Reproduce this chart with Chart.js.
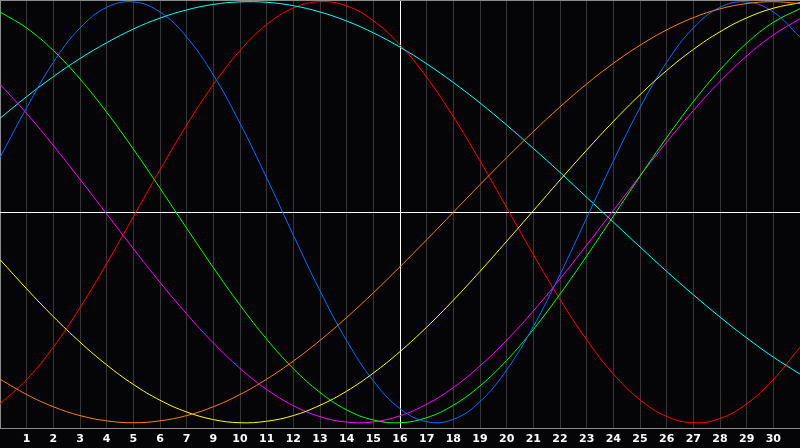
<!DOCTYPE html>
<html>
<head>
<meta charset="utf-8">
<title>Biorhythm</title>
<script src="https://cdn.jsdelivr.net/npm/chart.js@4/dist/chart.umd.min.js"></script>
<style>
  html, body { margin: 0; padding: 0; background: #050507; }
  canvas { display: block; }
</style>
</head>
<body>
<canvas id="chart" width="800" height="448"></canvas>
<script>
// day positions along the x axis (one grid step per day)
const days = [0, 1, 2, 3, 4, 5, 6, 7, 8, 9, 10, 11, 12, 13, 14, 15, 16, 17, 18, 19, 20, 21, 22, 23, 24, 25, 26, 27, 28, 29, 30];

// labels under grid lines 1..29 (the chart skips "8")
const tickLabels = ['1', '2', '3', '4', '5', '6', '7', '9', '10', '11', '12', '13', '14', '15', '16',
    '17', '18', '19', '20', '21', '22', '23', '24', '25', '26', '27', '28', '29', '30'];

const todayDay = 15;

// cycle values in percent at each day
const red = [-91.1, -79.5, -64.1, -45.4, -24.4, -2.2, 20.1, 41.4, 60.6, 76.8, 89.1, 97.0, 100.0, 98.0, 91.0, 79.5,
    64.1, 45.4, 24.4, 2.2, -20.1, -41.4, -60.6, -76.8, -89.1, -97.0, -100.0, -98.0, -91.0, -79.5, -64.1];
const blue = [26.0, 49.6, 71.2, 87.5, 97.3, 99.9, 95.1, 83.2, 65.2, 42.3, 16.3, -10.9, -37.3, -61.0, -80.1, -93.3,
    -99.5, -98.4, -90.0, -74.9, -54.3, -29.6, -2.7, 24.3, 49.6, 71.2, 87.5, 97.3, 99.9, 95.1, 83.2];
const cyan = [44.6, 54.9, 64.4, 73.0, 80.5, 87.0, 92.2, 96.1, 98.7, 99.9, 99.7, 98.1, 95.1, 90.8, 85.2, 78.4,
    70.5, 61.6, 51.9, 41.4, 30.3, 18.9, 7.1, -4.7, -16.5, -28.1, -39.2, -49.8, -59.7, -68.8, -76.9];
const green = [95.1, 87.5, 76.8, 63.3, 47.5, 30.0, 11.4, -7.6, -26.3, -44.1, -60.3, -74.3, -85.6, -93.9, -98.7, -100.0,
    -97.6, -91.7, -82.5, -70.4, -55.7, -38.9, -20.8, -1.9, 17.1, 35.4, 52.5, 67.6, 80.3, 90.2, 96.7];
const magenta = [60.8, 46.9, 31.7, 15.6, -0.8, -17.3, -33.3, -48.3, -62.1, -74.2, -84.2, -91.9, -97.1, -99.7, -99.6, -96.7,
    -91.2, -83.3, -73.0, -60.8, -46.9, -31.7, -15.6, 0.8, 17.3, 33.3, 48.3, 62.1, 74.2, 84.2, 91.9];
const yellow = [-22.5, -36.4, -49.6, -61.7, -72.5, -81.8, -89.3, -94.9, -98.5, -100.0, -99.3, -96.6, -91.7, -85.0, -76.4, -66.2,
    -54.6, -41.8, -28.1, -13.8, 0.7, 15.3, 29.5, 43.1, 55.8, 67.3, 77.3, 85.7, 92.3, 96.9, 99.5];
const orange = [-79.3, -86.6, -92.4, -96.6, -99.1, -100.0, -99.1, -96.6, -92.4, -86.6, -79.3, -70.7, -60.9, -50.0, -38.3, -25.9,
    -13.1, 0.0, 13.1, 25.9, 38.3, 50.0, 60.9, 70.7, 79.3, 86.6, 92.4, 96.6, 99.1, 100.0, 99.1];

const Y_MIN = -102.5;
const Y_MAX = 100.8;

const series = [
    {values: orange, color: '#ff8000'},
    {values: yellow, color: '#ffff00'},
    {values: blue, color: '#0a6cff'},
    {values: green, color: '#00ff00'},
    {values: magenta, color: '#ff00ff'},
    {values: cyan, color: '#00ffff'},
    {values: red, color: '#ff0000'},
];

const background = {
    id: 'background',
    beforeDraw(chart) {
        const ctx = chart.ctx;
        ctx.save();
        ctx.fillStyle = '#050507';
        ctx.fillRect(0, 0, chart.width, chart.height);
        ctx.restore();
    }
};

new Chart(document.getElementById('chart'), {
    type: 'line',
    data: {
        datasets: series.map(s => ({
            data: days.map((d, i) => ({x: d, y: s.values[i]})),
            borderColor: s.color,
            borderWidth: 1,
            pointRadius: 0,
            tension: 0.4,
            fill: false,
        })),
    },
    options: {
        responsive: false,
        devicePixelRatio: 1,
        animation: false,
        layout: {padding: 0},
        plugins: {
            legend: {display: false},
            tooltip: {enabled: false},
        },
        scales: {
            x: {
                type: 'linear',
                min: days[0],
                max: days[days.length - 1],
                afterFit: scale => {
                    scale.height = 20;
                    scale.paddingLeft = 0;
                    scale.paddingRight = 0;
                },
                border: {color: '#8c8c8c', width: 1},
                grid: {
                    drawTicks: false,
                    lineWidth: 1,
                    color: ctx => {
                        const v = ctx.tick ? ctx.tick.value : null;
                        if (v === todayDay) return '#ffffff';
                        if (v === days[0]) return '#8c8c8c';
                        if (v === days[days.length - 1]) return 'rgba(0,0,0,0)';
                        return '#363636';
                    },
                },
                ticks: {
                    stepSize: 1,
                    autoSkip: false,
                    maxRotation: 0,
                    padding: 5,
                    color: '#ffffff',
                    font: {family: 'DejaVu Sans', size: 11, weight: 'bold'},
                    callback: v => tickLabels[v - 1] || '',
                },
            },
            y: {
                type: 'linear',
                min: Y_MIN,
                max: Y_MAX,
                afterFit: scale => {
                    scale.width = 0;
                    scale.paddingTop = 0;
                    scale.paddingBottom = 0;
                },
                afterBuildTicks: scale => {
                    scale.ticks = [{value: Y_MIN}, {value: 0}, {value: Y_MAX}];
                },
                border: {display: false},
                grid: {
                    drawTicks: false,
                    color: ctx => {
                        const v = ctx.tick ? ctx.tick.value : null;
                        if (v === 0) return '#ffffff';
                        if (v === Y_MAX) return '#8c8c8c';
                        return 'rgba(0,0,0,0)';
                    },
                },
                ticks: {display: false},
            },
        },
    },
    plugins: [background],
});
</script>
</body>
</html>
